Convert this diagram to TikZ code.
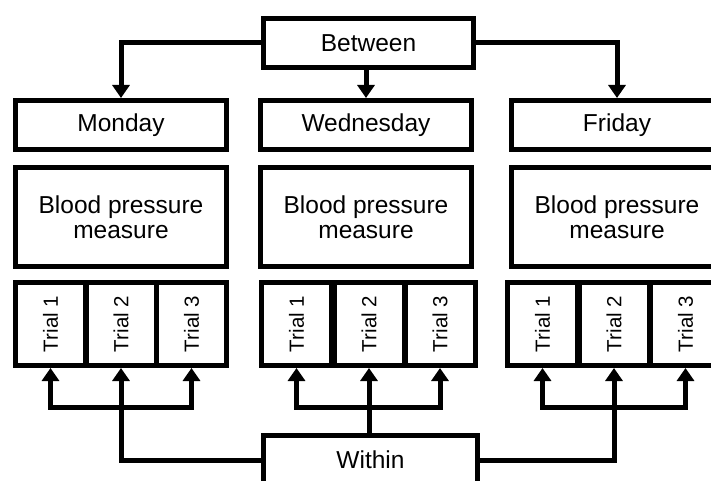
\documentclass[tikz,border=0pt]{standalone}
\usepackage{fontspec}
\setmainfont{Liberation Sans}
\usetikzlibrary{arrows.meta}
\begin{document}
\begin{tikzpicture}[x=1pt,y=-1pt,
  box/.style={draw=black,line width=5pt,fill=white,minimum width=211pt,minimum height=49pt,inner sep=0pt,font=\fontsize{24.5}{24.5}\selectfont,align=center},
  bigbox/.style={box,minimum height=99pt},
  cell/.style={draw=black,line width=5pt,fill=white,minimum width=70pt,minimum height=83pt,inner sep=0pt,font=\fontsize{20.5}{20.5}\selectfont},
  arr/.style={line width=5pt,-{Triangle[width=17pt,length=13pt]}}
]
\useasboundingbox (0,0) rectangle (711,481);
\begin{scope}
\clip (0,0) rectangle (711,481);
% top boxes
\node[box,minimum width=210pt] (between) at (368.5,43) {Between};
\node[box] (monday) at (121,125) {Monday};
\node[box] (wednesday) at (366,125) {Wednesday};
\node[box] (friday) at (617,125) {Friday};
% blood pressure
\node[bigbox] (bpm) at (121,217) {Blood pressure\\measure};
\node[bigbox] (bpw) at (366,217) {Blood pressure\\measure};
\node[bigbox] (bpf) at (617,217) {Blood pressure\\measure};
% trials
\node[cell] (m1) at (50.5,324) {\rotatebox{90}{Trial 1}};
\node[cell] (m2) at (121,324) {\rotatebox{90}{Trial 2}};
\node[cell] (m3) at (191.5,324) {\rotatebox{90}{Trial 3}};
\node[cell] (w1) at (296.5,324) {\rotatebox{90}{Trial 1}};
\node[cell] (w2) at (369,324) {\rotatebox{90}{Trial 2}};
\node[cell] (w3) at (440,324) {\rotatebox{90}{Trial 3}};
\node[cell] (f1) at (542.5,324) {\rotatebox{90}{Trial 1}};
\node[cell] (f2) at (614,324) {\rotatebox{90}{Trial 2}};
\node[cell] (f3) at (685.5,324) {\rotatebox{90}{Trial 3}};
% within
\node[box,minimum width=214pt] (within) at (370.5,460) {Within};
% between arrows
\draw[arr] (between.west) -| (monday.north);
\draw[arr] (wednesday.north |- between.south) -- (wednesday.north);
\draw[arr] (between.east) -| (friday.north);
% within arrows
\coordinate (mb) at (121,407);
\coordinate (wb) at (369,407);
\coordinate (fb) at (614,407);
\draw[arr] (within.west) -| (m2.south);
\draw[arr] (mb) -| (m1.south);
\draw[arr] (mb) -| (m3.south);
\draw[arr] (w2.south |- within.north) -- (w2.south);
\draw[arr] (wb) -| (w1.south);
\draw[arr] (wb) -| (w3.south);
\draw[arr] (within.east) -| (f2.south);
\draw[arr] (fb) -| (f1.south);
\draw[arr] (fb) -| (f3.south);
\end{scope}
\end{tikzpicture}
\end{document}
